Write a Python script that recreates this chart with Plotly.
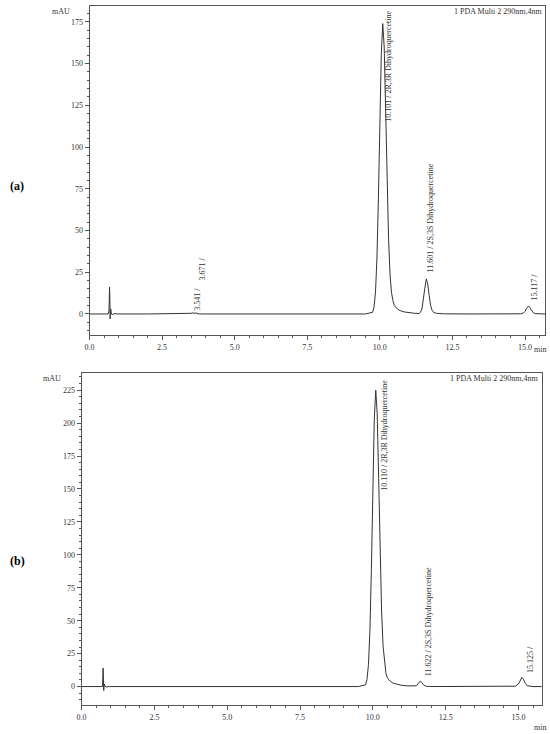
import plotly.graph_objects as go

# Cromatograma (a): tiempo (min) y absorbancia (mAU)
t_a = [0.0, 0.30, 0.50, 0.64, 0.67, 0.69, 0.70, 0.71, 0.72, 0.73, 0.75, 0.78, 0.85, 1.0,
       2.0, 3.0, 3.45, 3.50, 3.54, 3.60, 3.67, 3.75, 3.85, 5.0, 7.5, 9.5,
       9.75, 9.80, 9.85, 9.90, 9.95, 10.00, 10.05, 10.10, 10.15, 10.20, 10.25, 10.30,
       10.35, 10.40, 10.45, 10.50, 10.60, 10.70, 10.85, 11.0, 11.2,
       11.35, 11.40, 11.45, 11.50, 11.55, 11.60, 11.65, 11.70, 11.75, 11.80, 11.85, 11.95,
       12.2, 13.0, 14.5, 14.85, 14.95, 15.00, 15.05, 15.12, 15.17, 15.22, 15.28, 15.35,
       15.5, 15.69]
abs_a = [0, 0, 0.1, 0, 2, 16, 10, -3, -1, 3, 0.5, -0.5, 0.2, 0,
         0, 0, 0, 0.4, 0.7, 0.4, 0.6, 0.1, 0, 0, 0, 0,
         1, 4.2, 13, 33.5, 69, 115, 156, 174, 160, 122, 80, 45,
         24, 13, 8, 5, 3, 2, 1.2, 0.7, 0.4,
         0.3, 1, 3, 8, 15.5, 21, 18, 11, 5, 2.2, 1, 0.4,
         0.1, 0, 0, 0.1, 0.6, 1.5, 3.2, 4.8, 3.8, 2, 0.8, 0.2,
         0, 0]

# Cromatograma (b)
t_b = [0.0, 0.40, 0.60, 0.72, 0.74, 0.75, 0.76, 0.77, 0.78, 0.80, 0.85, 0.95,
       3.0, 6.0, 9.5, 9.75, 9.80, 9.85, 9.90, 9.95, 10.00, 10.05, 10.10, 10.15, 10.20,
       10.25, 10.30, 10.35, 10.40, 10.45, 10.50, 10.60, 10.70, 10.85, 11.0, 11.2, 11.4,
       11.50, 11.55, 11.60, 11.63, 11.68, 11.73, 11.80, 11.90, 12.2,
       14.8, 14.9, 15.00, 15.07, 15.12, 15.17, 15.23, 15.30, 15.40, 15.5, 15.8]
abs_b = [0, 0, 0.1, 0, 14, 6, -3, -0.5, 2, 0.5, -0.3, 0,
         0, 0, 0, 1.3, 5.4, 16.8, 43, 89, 149, 203, 225, 207, 158,
         103, 58, 31, 17, 10, 6.5, 4, 2.5, 1.5, 0.9, 0.5, 0.3,
         0.6, 2, 3.6, 4.2, 3.2, 1.5, 0.4, 0.1, 0,
         0, 0.3, 2, 5, 7, 5.5, 2.5, 0.6, 0.1, 0, 0]

# Etiquetas de picos: (texto, tiempo, altura base del texto)
picos_a = [("3.541 /", 3.71, 0.6), ("3.671 /", 3.88, 18.6),
           ("10.101 / 2R,3R Dihydroquercetine", 10.29, 113.8),
           ("11.601 / 2S,3S Dihydroquercetine", 11.73, 23.4),
           ("15.117 /", 15.31, 6.6)]
picos_b = [("10.110 / 2R,3R Dihydroquercetine", 10.39, 146.9),
           ("11.622 / 2S,3S Dihydroquercetine", 11.89, 6.6),
           ("15.125 /", 15.42, 8.9)]

serif = "Liberation Serif"
gris = "#333333"

fig = go.Figure()
fig.add_trace(go.Scatter(x=t_a, y=abs_a, mode='lines', line=dict(color=gris, width=1),
                         xaxis='x', yaxis='y', showlegend=False))
fig.add_trace(go.Scatter(x=t_b, y=abs_b, mode='lines', line=dict(color=gris, width=1),
                         xaxis='x2', yaxis='y2', showlegend=False))

ejes = dict(showgrid=False, zeroline=False, showline=True, mirror=True,
            linecolor='#555555', linewidth=1, ticks='outside', tickcolor='#555555',
            ticklen=4, tickfont=dict(family=serif, size=8, color=gris))

fig.update_layout(
    width=550, height=734,
    margin=dict(l=0, r=0, t=0, b=0),
    paper_bgcolor='white', plot_bgcolor='white',
    xaxis=dict(domain=[0.1551, 0.9909], anchor='y', range=[0, 15.69], dtick=2.5,
               tickformat='.1f', minor=dict(dtick=0.5, ticklen=2, ticks='outside',
                                            tickcolor='#555555'), **ejes),
    yaxis=dict(domain=[0.5436, 0.9918], anchor='x', range=[-12.6, 184.5], dtick=25,
               minor=dict(dtick=5, ticklen=2, ticks='outside', tickcolor='#555555'), **ejes),
    xaxis2=dict(domain=[0.1405, 0.9849], anchor='y2', range=[0, 15.8], dtick=2.5,
                tickformat='.1f', minor=dict(dtick=0.5, ticklen=2, ticks='outside',
                                             tickcolor='#555555'), **ejes),
    yaxis2=dict(domain=[0.0395, 0.4918], anchor='x2', range=[-14, 238], dtick=25,
                minor=dict(dtick=5, ticklen=2, ticks='outside', tickcolor='#555555'), **ejes),
)

anots = []
for texto, t, h in picos_a:
    anots.append(dict(text=texto, x=t, y=h, xref='x', yref='y', textangle=-90,
                      xanchor='center', yanchor='bottom', showarrow=False,
                      font=dict(family=serif, size=8, color=gris)))
for texto, t, h in picos_b:
    anots.append(dict(text=texto, x=t, y=h, xref='x2', yref='y2', textangle=-90,
                      xanchor='center', yanchor='bottom', showarrow=False,
                      font=dict(family=serif, size=8, color=gris)))

fuente = dict(family=serif, size=8, color=gris)
extras = [
    ("mAU", 0.1036, 0.985, 'center'), ("mAU", 0.0855, 0.4837, 'center'),
    ("min", 0.9818, 0.5232, 'center'), ("min", 0.9818, 0.0095, 'center'),
    ("1 PDA Multi 2 290nm,4nm", 0.9909, 0.985, 'right'),
    ("1 PDA Multi 2 290nm,4nm", 0.9836, 0.485, 'right'),
]
for texto, x, y, xa in extras:
    anots.append(dict(text=texto, x=x, y=y, xref='paper', yref='paper', xanchor=xa,
                      yanchor='middle', showarrow=False, font=fuente))

for letra, y in [("(a)", 0.7466), ("(b)", 0.2357)]:
    anots.append(dict(text=f"<b>{letra}</b>", x=0.0227, y=y, xref='paper', yref='paper',
                      xanchor='center', yanchor='middle', showarrow=False,
                      font=dict(family=serif, size=12, color='black')))

fig.update_layout(annotations=anots)
# quitar el margen por defecto del <body> para que la figura encaje en la ventana
fig.write_html("out.html", config={'displayModeBar': False},
               post_script="document.body.style.margin='0';")
